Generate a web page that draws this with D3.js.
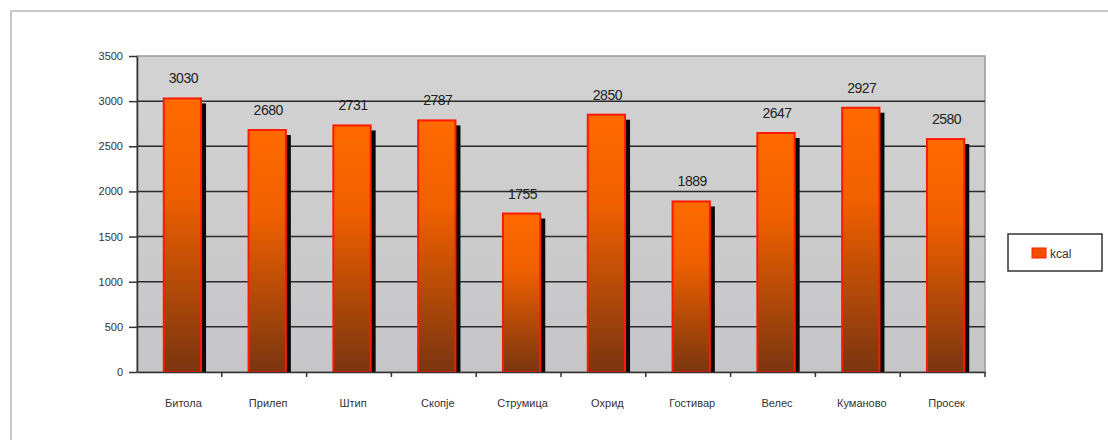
<!DOCTYPE html>
<html>
<head>
<meta charset="utf-8">
<script src="https://cdn.jsdelivr.net/npm/d3@7"></script>
<style>
  body { margin: 0; background: #fff; }
  text { font-family: Arial, "Liberation Sans", sans-serif; }
</style>
</head>
<body>
<div id="chart"></div>
<script>
var cities = ["Битола", "Прилеп", "Штип", "Скопје", "Струмица", "Охрид", "Гостивар", "Велес", "Куманово", "Просек"];
var kcal = [3030, 2680, 2731, 2787, 1755, 2850, 1889, 2647, 2927, 2580];
var yTicks = [0, 500, 1000, 1500, 2000, 2500, 3000, 3500];
var seriesName = "kcal";

var W = 1108, H = 443;
var plot = { left: 137, right: 985, top: 56, bottom: 372 };

var svg = d3.select("#chart").append("svg")
    .attr("width", W)
    .attr("height", H);

var defs = svg.append("defs");
var bg = defs.append("linearGradient").attr("id", "bg")
    .attr("x1", 0).attr("y1", 0).attr("x2", 0).attr("y2", 1);
bg.append("stop").attr("offset", "0%").attr("stop-color", "#d3d3d3");
bg.append("stop").attr("offset", "100%").attr("stop-color", "#c6c6c8");

var barGrad = defs.append("linearGradient").attr("id", "barGrad")
    .attr("x1", 0).attr("y1", 0).attr("x2", 0).attr("y2", 1);
barGrad.append("stop").attr("offset", "0%").attr("stop-color", "#ff6a00");
barGrad.append("stop").attr("offset", "35%").attr("stop-color", "#f06000");
barGrad.append("stop").attr("offset", "100%").attr("stop-color", "#7a3510");

// outer frame (only top and left show in the picture)
svg.append("path")
    .attr("d", "M11,440 L11,11 L1108,11")
    .attr("fill", "none")
    .attr("stroke", "#c8c8c8")
    .attr("stroke-width", 2);

var x = d3.scaleBand()
    .domain(cities)
    .range([plot.left, plot.right])
    .padding(0);

var y = d3.scaleLinear()
    .domain([0, 3500])
    .range([plot.bottom, plot.top]);

// plot area
svg.append("rect")
    .attr("x", plot.left)
    .attr("y", plot.top)
    .attr("width", plot.right - plot.left)
    .attr("height", plot.bottom - plot.top)
    .attr("fill", "url(#bg)")
    .attr("stroke", "#9a9a9a")
    .attr("stroke-width", 1.5);

// gridlines
svg.append("g")
    .selectAll("line")
    .data(yTicks.filter(function (d) { return d > 0 && d < 3500; }))
    .enter().append("line")
    .attr("x1", plot.left)
    .attr("x2", plot.right)
    .attr("y1", function (d) { return y(d); })
    .attr("y2", function (d) { return y(d); })
    .attr("stroke", "#2a2a2a")
    .attr("stroke-width", 1.5);

// y axis
var yAxis = svg.append("g")
    .attr("transform", "translate(" + plot.left + ",0)")
    .call(d3.axisLeft(y).tickValues(yTicks).tickFormat(d3.format("d")).tickSize(8).tickSizeOuter(0));
yAxis.select(".domain").attr("stroke", "#333").attr("stroke-width", 1.5);
yAxis.selectAll(".tick line").attr("stroke", "#333").attr("stroke-width", 1.5);
yAxis.selectAll(".tick text")
    .attr("x", -14)
    .attr("fill", "#333")
    .style("font-size", "11px");

// bars
var barW = x.bandwidth() * 0.44;
var shift = 3;
var bars = svg.append("g");
bars.selectAll(".shadow")
    .data(kcal)
    .enter().append("rect")
    .attr("class", "shadow")
    .attr("x", function (d, i) { return x(cities[i]) + x.bandwidth() / 2 - barW / 2 + shift + 5; })
    .attr("y", function (d) { return y(d) + 5; })
    .attr("width", barW)
    .attr("height", function (d) { return plot.bottom - y(d) - 4; })
    .attr("fill", "#0a0a0a");

bars.selectAll(".bar")
    .data(kcal)
    .enter().append("rect")
    .attr("class", "bar")
    .attr("x", function (d, i) { return x(cities[i]) + x.bandwidth() / 2 - barW / 2 + shift; })
    .attr("y", function (d) { return y(d); })
    .attr("width", barW)
    .attr("height", function (d) { return plot.bottom - y(d); })
    .attr("fill", "url(#barGrad)")
    .attr("stroke", "#ff1a00")
    .attr("stroke-width", 2);

// value labels
svg.append("g")
    .selectAll("text")
    .data(kcal)
    .enter().append("text")
    .attr("x", function (d, i) { return x(cities[i]) + x.bandwidth() / 2 + shift + 1; })
    .attr("y", function (d) { return y(d) - 15; })
    .attr("text-anchor", "middle")
    .attr("fill", "#222")
    .style("font-size", "14px")
    .style("letter-spacing", "-0.5px")
    .text(function (d) { return d; });

// x axis
var xAxis = svg.append("g")
    .attr("transform", "translate(0," + plot.bottom + ")")
    .call(d3.axisBottom(x).tickSize(0));
xAxis.select(".domain").attr("stroke", "#333").attr("stroke-width", 1.5);
xAxis.selectAll(".tick text")
    .attr("y", 27)
    .attr("dx", 4)
    .attr("fill", "#333")
    .style("font-size", "11px");

// x ticks at category boundaries
svg.append("g")
    .selectAll("line")
    .data(cities.slice(1).concat(["end"]))
    .enter().append("line")
    .attr("x1", function (d, i) { return i < cities.length - 1 ? x(d) : plot.right; })
    .attr("x2", function (d, i) { return i < cities.length - 1 ? x(d) : plot.right; })
    .attr("y1", plot.bottom)
    .attr("y2", plot.bottom + 5)
    .attr("stroke", "#333")
    .attr("stroke-width", 1.5);

// legend
var legend = svg.append("g").attr("transform", "translate(1008,234)");
legend.append("rect")
    .attr("width", 94)
    .attr("height", 37)
    .attr("fill", "#fff")
    .attr("stroke", "#333")
    .attr("stroke-width", 1.5);
legend.append("rect")
    .attr("x", 24)
    .attr("y", 14)
    .attr("width", 14)
    .attr("height", 10)
    .attr("fill", "#f05000")
    .attr("stroke", "#ff1a00");
legend.append("text")
    .attr("x", 42)
    .attr("y", 24)
    .attr("fill", "#333")
    .style("font-size", "12px")
    .text(seriesName);
</script>
</body>
</html>
